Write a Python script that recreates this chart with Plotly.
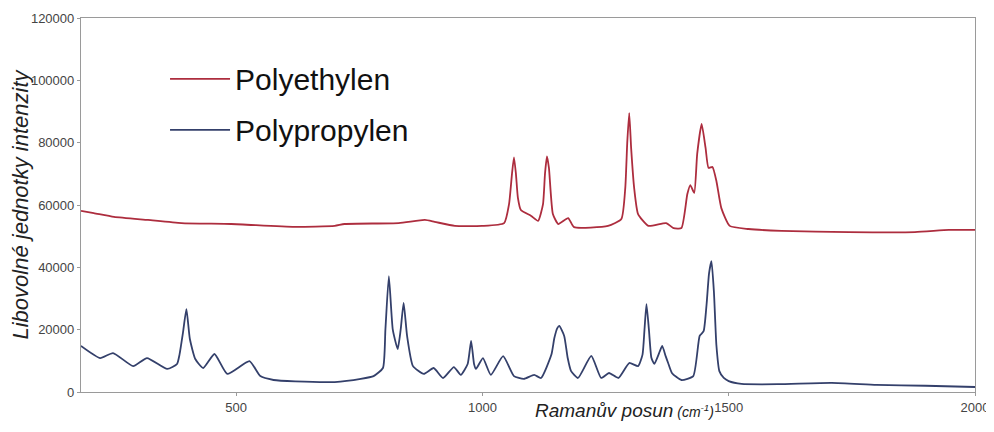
import plotly.graph_objects as go

# Polyethylen (red) spectrum
pe_x = [185, 211, 252, 321, 389, 490, 618, 700, 720, 830, 883, 903, 944, 999,
        1044, 1054, 1060, 1064, 1068, 1072, 1078, 1099, 1113, 1123, 1127, 1131, 1135, 1143,
        1154, 1174, 1186, 1255, 1282, 1290, 1294, 1298, 1302, 1308, 1316, 1337, 1373, 1388,
        1404, 1416, 1422, 1430, 1436, 1445, 1453, 1459, 1467, 1475, 1485, 1502, 1540, 1607,
        1744, 1878, 1947, 2000]
pe_y = [58100, 57400, 56200, 55200, 54200, 53900, 53000, 53300, 53900, 54200, 55200, 54600, 53300, 53300,
        54200, 60300, 70000, 75300, 70000, 62300, 58400, 56500, 54900, 60300, 70000, 75600, 71900, 57100,
        53900, 55800, 52900, 53300, 55500, 65500, 80000, 89500, 78000, 65500, 57100, 53300, 54200, 52600,
        52600, 63500, 66400, 63900, 76400, 86000, 78300, 71900, 72200, 67700, 59000, 53300, 52300, 51700,
        51300, 51300, 52000, 52000]

# Polypropylen (blue) spectrum
pp_x = [185, 224, 250, 291, 319, 360, 380, 385, 392, 399, 406, 417, 433, 456, 482, 527, 549, 576,
        620, 700, 753, 779, 798, 803, 810, 818, 828, 834, 840, 847, 859, 881, 901, 920, 942,
        956, 970, 977, 983, 987, 1001, 1017, 1042, 1064, 1084, 1105, 1119, 1140, 1146, 1152, 1156,
        1166, 1173, 1180, 1194, 1221, 1241, 1257, 1276, 1298, 1316, 1325, 1329, 1333, 1338, 1343,
        1349, 1360, 1365, 1372, 1377, 1385, 1404, 1428, 1441, 1449, 1455, 1460, 1465, 1470, 1475,
        1481, 1490, 1500, 1526, 1600, 1709, 1800, 1900, 2000]
pp_y = [14800, 10900, 12500, 8300, 10900, 7400, 9000, 12000, 19000, 26600, 17000, 10600, 7700, 12200, 5800, 9900, 5100, 3850,
        3400, 3200, 4200, 5100, 7700, 20000, 37200, 20000, 13800, 20000, 28600, 18000, 8300, 5800, 7700, 4500, 8000,
        5500, 9000, 16400, 9000, 7400, 10900, 5500, 11500, 5100, 4200, 5500, 4500, 12000, 17300, 20500, 21200,
        18000, 11000, 6700, 4500, 11600, 4500, 6100, 4500, 9300, 8300, 12000, 20000, 28200, 20000, 11000,
        9000, 13000, 14800, 11500, 9300, 6000, 3850, 5100, 18000, 19500, 28000, 38000, 42000, 32000, 15000,
        6700, 4500, 3500, 2600, 2500, 2900, 2300, 2000, 1600]

x_ticks = [500, 1000, 1500, 2000]
y_ticks = [0, 20000, 40000, 60000, 80000, 100000, 120000]

fig = go.Figure()
fig.add_trace(go.Scatter(x=pe_x, y=pe_y, mode="lines", name="Polyethylen",
                         legendgroup="pe",
                         line=dict(color="#ad2d3e", width=1.8, shape="spline", smoothing=0.5)))
fig.add_trace(go.Scatter(x=pp_x, y=pp_y, mode="lines", name="Polypropylen",
                         legendgroup="pp",
                         line=dict(color="#34406b", width=1.8, shape="spline", smoothing=0.5)))

axis_common = dict(showgrid=False, zeroline=False, showline=True, linecolor="#9a9a9a",
                   linewidth=1.2, mirror=True, ticks="outside", ticklen=3, tickcolor="#9a9a9a",
                   automargin=False,
                   tickfont=dict(family="Liberation Sans, Arial", size=13, color="#444"))

fig.update_xaxes(range=[185, 2000], tickvals=x_ticks, **axis_common)
fig.update_yaxes(range=[0, 120000], tickvals=y_ticks, tickformat="d",
                 title=dict(text="<i>Libovolné jednotky intenzity</i>",
                            font=dict(family="Liberation Sans, Arial", size=22, color="#222"),
                            standoff=4),
                 **axis_common)

fig.add_annotation(xref="paper", yref="paper", x=0.506, y=-0.05, xanchor="left", yanchor="middle",
                   showarrow=False,
                   text="<i>Ramanův posun</i><i><span style='font-size:14px'> (cm<sup>-1</sup>)</span></i>",
                   font=dict(family="Liberation Sans, Arial", size=19, color="#222"))

# page body adds an 8px offset, so the figure is sized to fit inside the window
fig.update_layout(
    width=986, height=424,
    margin=dict(l=73, r=19, t=10, b=40),
    paper_bgcolor="white", plot_bgcolor="white",
    showlegend=True,
    legend=dict(x=0.094, y=0.907, xanchor="left", yanchor="top", bgcolor="rgba(0,0,0,0)",
                font=dict(family="Liberation Sans, Arial", size=30, color="#111"),
                itemwidth=60, tracegroupgap=9, traceorder="grouped"),
)

fig.write_html("out.html")
